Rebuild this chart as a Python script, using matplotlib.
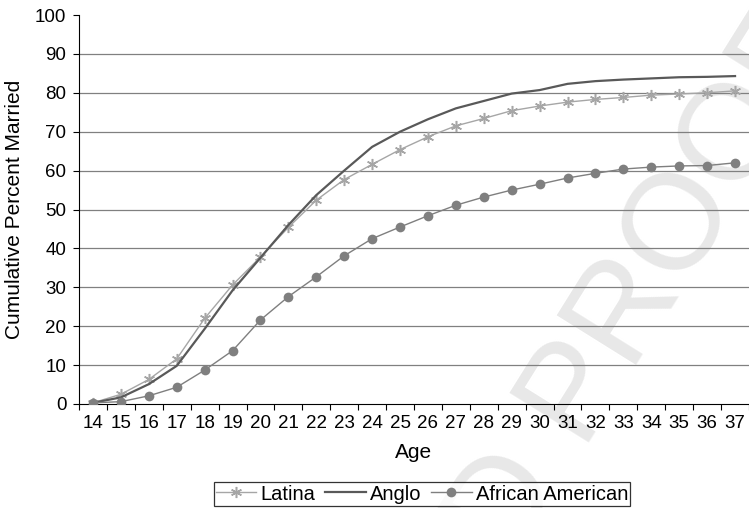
import numpy as np
import matplotlib
matplotlib.use("Agg")
import matplotlib.pyplot as plt

plt.rcParams['font.family'] = ['Liberation Sans', 'DejaVu Sans']

# data
ages = list(range(14, 38))
latina = [0.3, 2.5, 6.3, 11.6, 22.0, 30.6, 37.8, 45.4, 52.4, 57.7, 61.6, 65.4,
          68.7, 71.5, 73.4, 75.4, 76.6, 77.6, 78.3, 78.8, 79.4, 79.7, 80.0, 80.5]
anglo = [0.3, 1.7, 5.1, 9.8, 19.3, 29.2, 37.6, 46.0, 53.7, 60.0, 66.1, 70.0,
         73.2, 76.0, 77.9, 79.8, 80.7, 82.3, 83.0, 83.4, 83.7, 84.0, 84.1, 84.3]
african_american = [0.3, 0.6, 2.1, 4.3, 8.7, 13.7, 21.6, 27.6, 32.7, 38.1, 42.5, 45.5,
                    48.4, 51.1, 53.2, 55.0, 56.5, 58.1, 59.3, 60.4, 60.9, 61.2, 61.3, 62.0]

fig = plt.figure(figsize=(7.49, 5.08), dpi=100)
ax = fig.add_axes([79 / 749, 1 - 404 / 508, 670 / 749, 389 / 508])

# faint proof watermark, behind everything
fig.text(0.862, 0.440, "D PROOF", rotation=58, fontsize=98, color='#e8e8e8',
         ha='center', va='center', zorder=-5)
ax.patch.set_alpha(0)

ax.plot(ages, latina, color='#a6a6a6', lw=1.0, marker=(6, 2, 0), markersize=8,
        markeredgewidth=1.1, label='Latina', zorder=3)
ax.plot(ages, anglo, color='#595959', lw=1.6, label='Anglo', zorder=3)
ax.plot(ages, african_american, color='#7f7f7f', lw=1.0, marker='o', markersize=7,
        markeredgewidth=0, label='African American', zorder=3)

ax.set_xlim(13.5, 37.5)
ax.set_ylim(0, 100)
ax.set_xticks(np.arange(13.5, 38, 1))
ax.set_xticklabels([])
ax.set_xticks(ages, minor=True)
ax.set_xticklabels([str(a) for a in ages], minor=True, fontsize=13.5)
ax.tick_params(axis='x', which='minor', length=0, pad=8)
ax.tick_params(axis='x', which='major', length=4, direction='out', width=0.8)
ax.set_yticks(range(0, 101, 10))
ax.tick_params(axis='y', length=4, direction='out', labelsize=13.5, width=0.8, pad=5)

for v in range(10, 100, 10):
    ax.axhline(v, color='#808080', lw=0.9, zorder=1)

for s in ['top', 'right']:
    ax.spines[s].set_visible(False)
ax.spines['left'].set_linewidth(0.8)
ax.spines['bottom'].set_linewidth(0.8)

ax.set_xlabel('Age', fontsize=15)
ax.xaxis.set_label_coords(0.5, -(443 - 404) / 389)
ax.set_ylabel('Cumulative Percent Married', fontsize=15)
ax.yaxis.set_label_coords(-(79 - 24) / 670, 0.5)

leg = fig.legend(loc='center', bbox_to_anchor=(422 / 749, 1 - 494 / 508), ncol=3,
                 frameon=True, fancybox=False, edgecolor='black', fontsize=14.5,
                 handlelength=2.0, handletextpad=0.2, columnspacing=0.5,
                 borderpad=0.12, borderaxespad=0)
leg.get_frame().set_linewidth(0.9)

fig.savefig('out.png', dpi=100)
